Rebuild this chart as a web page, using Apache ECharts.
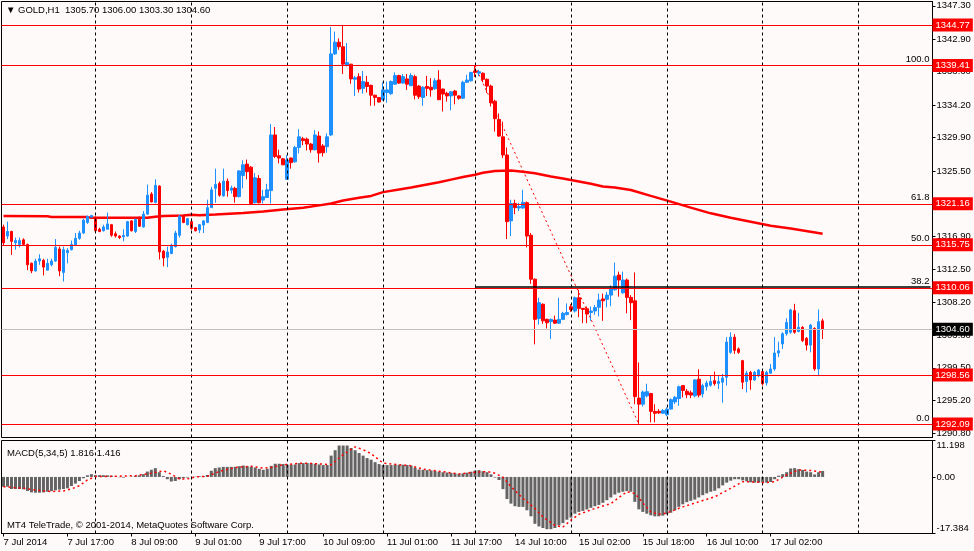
<!DOCTYPE html>
<html>
<head>
<meta charset="utf-8">
<script src="https://cdn.jsdelivr.net/npm/echarts@6.0.0/dist/echarts.min.js"></script>
<style>
  html, body { margin: 0; padding: 0; background: #FFFAFA; }
  #main { width: 974px; height: 551px; }
</style>
</head>
<body>
<div id="main"></div>
<script>
// trading days shown: [day, first hour, last hour]
var days = [['7 Jul', 1, 23], ['8 Jul', 0, 23], ['9 Jul', 0, 23], ['10 Jul', 0, 23], ['11 Jul', 0, 22],
            ['14 Jul', 0, 23], ['15 Jul', 0, 23], ['16 Jul', 0, 23], ['17 Jul', 0, 23], ['18 Jul', 0, 23]];
var slots = 233; // bars that fit in the window (data + empty space on the right)

// GOLD H1 candles: [open, close, low, high]
var candles = [
  [1318.1,1316.0,1315.6,1318.4],[1316.9,1317.5,1316.5,1318.8],[1317.5,1316.2,1314.4,1317.6],[1316.0,1316.3,1315.1,1316.7],
  [1315.8,1316.3,1315.4,1316.7],[1316.4,1315.8,1315.7,1316.6],[1315.8,1313.1,1312.4,1315.9],[1313.3,1312.3,1312.0,1313.4],
  [1312.3,1313.6,1312.2,1313.9],[1313.6,1313.9,1313.1,1314.5],[1313.7,1312.8,1311.7,1313.9],[1312.4,1313.3,1312.4,1313.9],
  [1313.1,1313.6,1312.9,1313.9],[1313.6,1315.4,1313.5,1316.5],[1315.2,1312.3,1311.6,1315.5],[1312.1,1315.1,1310.9,1315.5],
  [1314.7,1315.0,1313.3,1315.3],[1315.1,1315.8,1315.0,1316.3],[1315.7,1316.6,1315.6,1317.3],[1316.6,1317.3,1316.4,1317.6],
  [1317.3,1319.0,1317.2,1319.2],[1318.7,1319.5,1318.5,1319.6],[1319.4,1319.6,1319.3,1319.7],[1319.3,1317.6,1317.5,1319.5],
  [1317.8,1317.5,1317.4,1318.0],[1317.6,1318.1,1317.5,1318.4],[1317.8,1318.5,1317.8,1320.0],[1318.4,1317.0,1316.8,1318.5],
  [1317.2,1316.9,1316.7,1317.5],[1316.9,1316.7,1316.5,1317.0],[1316.8,1317.0,1316.2,1317.8],[1316.9,1318.8,1316.8,1318.9],
  [1318.9,1317.6,1317.5,1319.0],[1317.5,1319.1,1317.3,1319.2],[1319.2,1318.2,1318.1,1319.5],[1318.1,1319.8,1318.0,1320.2],
  [1319.8,1322.3,1319.7,1323.7],[1322.45,1321.4,1321.35,1322.7],[1321.35,1323.6,1321.2,1324.4],[1323.5,1314.8,1313.8,1323.6],
  [1314.9,1314.0,1312.9,1315.05],[1314.1,1314.8,1312.8,1315.5],[1314.6,1315.7,1314.5,1315.9],[1315.5,1317.3,1315.4,1317.6],
  [1317.0,1319.5,1316.7,1319.7],[1319.5,1318.7,1318.6,1319.7],[1318.4,1319.2,1318.3,1319.3],[1318.8,1317.9,1317.7,1319.2],
  [1318.0,1317.6,1317.5,1318.1],[1317.7,1318.4,1317.3,1318.5],[1318.35,1318.9,1317.3,1319.0],[1318.7,1320.65,1318.6,1321.7],
  [1320.65,1323.0,1320.6,1323.4],[1323.2,1323.7,1321.3,1325.8],[1323.85,1322.3,1322.1,1324.1],[1322.2,1324.15,1322.1,1325.8],
  [1324.15,1322.9,1322.1,1324.5],[1322.95,1323.25,1322.5,1323.55],[1323.2,1322.1,1321.3,1323.4],[1322.1,1325.5,1322.0,1325.6],
  [1324.9,1326.3,1323.2,1326.9],[1326.4,1325.4,1324.4,1327.0],[1326.0,1321.2,1321.2,1326.15],[1321.3,1324.6,1321.2,1325.2],
  [1324.5,1321.3,1321.2,1324.95],[1321.65,1322.1,1321.2,1323.0],[1322.0,1323.0,1321.9,1323.8],[1322.9,1330.25,1321.2,1331.7],
  [1330.25,1327.4,1327.2,1331.3],[1327.5,1327.2,1326.5,1328.3],[1327.1,1326.3,1326.3,1327.2],[1324.4,1326.95,1324.3,1327.6],
  [1327.2,1326.6,1325.8,1327.25],[1326.7,1328.6,1326.6,1328.8],[1328.6,1330.0,1327.8,1331.0],[1329.75,1329.5,1328.9,1330.0],
  [1329.7,1329.05,1328.2,1329.9],[1329.05,1328.3,1327.9,1329.2],[1328.3,1330.25,1328.2,1330.9],[1330.1,1327.85,1326.6,1330.7],
  [1328.8,1327.9,1327.4,1329.05],[1328.7,1330.0,1327.9,1330.45],[1330.25,1340.95,1330.1,1344.5],[1340.95,1342.5,1340.8,1343.9],
  [1342.5,1341.9,1341.5,1343.0],[1341.9,1339.6,1338.3,1344.77],[1339.5,1339.8,1339.3,1342.4],[1339.6,1337.65,1337.0,1339.6],
  [1337.6,1337.8,1335.4,1338.05],[1337.95,1336.3,1335.85,1338.4],[1336.4,1337.3,1335.7,1338.7],[1337.2,1336.65,1335.85,1338.05],
  [1336.8,1335.5,1334.1,1336.9],[1335.5,1335.2,1334.1,1335.55],[1335.2,1334.6,1334.5,1335.25],[1334.9,1336.2,1334.8,1337.2],
  [1335.85,1336.2,1334.5,1337.3],[1335.7,1337.3,1335.55,1337.45],[1336.95,1338.1,1336.9,1338.5],[1338.1,1337.1,1337.0,1338.2],
  [1337.1,1337.95,1337.0,1338.3],[1337.65,1336.95,1336.2,1338.3],[1336.75,1338.1,1336.7,1338.4],[1337.95,1335.5,1334.95,1338.2],
  [1336.7,1335.3,1335.0,1336.85],[1335.2,1336.55,1334.1,1336.7],[1336.65,1336.4,1335.4,1338.05],[1336.55,1336.2,1335.3,1337.75],
  [1336.35,1337.4,1336.2,1337.75],[1337.5,1334.9,1334.9,1338.8],[1336.3,1335.65,1333.35,1336.4],[1335.75,1335.4,1334.65,1335.95],
  [1335.4,1335.95,1333.5,1336.05],[1336.05,1335.5,1334.3,1336.2],[1335.4,1335.1,1334.9,1335.5],[1335.1,1337.2,1335.0,1337.4],
  [1337.2,1337.5,1337.1,1338.2],[1337.4,1338.5,1337.3,1338.6],[1338.7,1338.5,1337.9,1339.41],[1338.4,1338.6,1338.0,1338.85],
  [1338.4,1337.6,1337.2,1338.5],[1337.6,1336.7,1335.8,1337.7],[1336.7,1334.5,1334.0,1336.9],[1334.7,1332.4,1330.7,1334.9],
  [1332.3,1330.1,1330.0,1333.1],[1330.0,1327.6,1327.2,1332.0],[1327.6,1318.8,1316.5,1328.6],[1318.9,1321.2,1316.9,1321.7],
  [1321.2,1320.65,1319.8,1321.7],[1320.6,1320.8,1320.2,1321.3],[1320.6,1321.35,1320.5,1323.0],[1321.3,1316.9,1315.4,1321.45],
  [1317.0,1311.2,1310.6,1317.3],[1311.2,1305.9,1302.6,1311.3],[1306.0,1308.1,1305.2,1308.75],[1307.9,1305.7,1305.3,1308.0],
  [1305.9,1305.45,1304.7,1306.0],[1305.6,1305.9,1303.3,1306.0],[1305.8,1305.4,1305.3,1306.4],[1305.4,1305.9,1305.3,1308.75],
  [1305.9,1306.7,1305.8,1306.9],[1306.55,1306.8,1306.4,1308.0],[1307.55,1307.2,1306.9,1307.9],[1307.0,1308.75,1306.8,1308.9],
  [1308.75,1307.35,1306.2,1309.8],[1307.35,1307.2,1305.4,1307.4],[1307.3,1306.6,1305.4,1307.6],[1306.8,1307.0,1305.7,1307.6],
  [1307.0,1307.45,1306.5,1307.8],[1307.5,1308.45,1306.3,1309.3],[1308.6,1308.35,1305.7,1309.3],[1308.55,1309.1,1307.5,1309.5],
  [1309.1,1310.0,1307.65,1310.4],[1309.8,1311.6,1309.7,1313.4],[1311.75,1311.1,1308.9,1312.2],[1309.4,1311.1,1309.3,1312.2],
  [1311.1,1308.8,1306.7,1311.3],[1308.8,1308.1,1305.8,1309.1],[1308.35,1295.7,1294.7,1312.1],[1295.5,1294.7,1292.09,1300.2],
  [1294.7,1296.3,1294.4,1296.5],[1295.8,1296.35,1295.6,1297.4],[1296.1,1293.75,1292.3,1296.2],[1293.75,1293.5,1292.3,1294.7],
  [1293.75,1293.55,1293.4,1294.05],[1293.5,1293.85,1293.4,1294.05],[1293.3,1294.05,1293.1,1294.3],[1294.05,1295.3,1294.0,1295.45],
  [1295.0,1295.6,1294.7,1295.8],[1295.45,1297.0,1294.5,1297.15],[1297.15,1296.5,1295.6,1297.2],[1296.4,1295.95,1295.5,1296.7],
  [1296.2,1295.9,1295.5,1296.5],[1295.8,1297.9,1295.6,1298.0],[1298.0,1295.9,1295.6,1299.3],[1296.05,1297.15,1295.6,1297.4],
  [1297.0,1297.5,1296.5,1297.8],[1297.2,1297.7,1297.0,1298.5],[1297.8,1297.4,1297.15,1299.0],[1297.45,1297.7,1296.7,1298.5],
  [1297.6,1298.15,1294.9,1298.7],[1298.25,1302.9,1297.15,1303.55],[1301.55,1303.55,1301.35,1304.2],[1303.55,1301.8,1301.35,1303.95],
  [1302.0,1301.55,1301.35,1302.2],[1300.45,1297.6,1296.7,1300.55],[1297.7,1298.8,1296.25,1299.1],[1298.9,1297.9,1296.6,1299.1],
  [1297.9,1298.9,1297.8,1299.1],[1298.45,1299.2,1298.25,1299.35],[1299.0,1297.4,1297.15,1299.1],[1297.5,1298.9,1297.15,1299.1],
  [1298.8,1299.35,1298.7,1300.0],[1299.35,1301.45,1299.1,1303.55],[1301.45,1301.75,1300.9,1302.95],[1302.65,1304.0,1302.0,1304.2],
  [1304.0,1305.5,1303.75,1306.05],[1304.2,1307.15,1304.0,1307.3],[1307.05,1304.2,1304.0,1307.95],[1304.3,1304.85,1304.2,1306.75],
  [1304.85,1303.1,1302.9,1305.0],[1303.4,1302.5,1301.8,1303.55],[1302.5,1305.15,1301.55,1305.3],[1304.7,1299.35,1299.1,1304.85],
  [1299.35,1305.6,1298.4,1307.2],[1305.70,1304.60,1303.30,1306.00]
];

// moving average: [bar index, value]
var maPoints = [
  [0,1319.55],[11,1319.5],[12,1319.42],[21,1319.4],[22,1319.33],[36,1319.33],[38,1319.45],[40,1319.55],
  [45,1319.6],[47,1319.72],[49,1319.65],[53,1319.75],[60,1319.95],[65,1320.15],[70,1320.4],[75,1320.65],
  [79,1320.95],[82,1321.2],[85,1321.6],[89,1321.95],[92,1322.2],[95,1322.7],[99,1323.05],[102,1323.3],
  [105,1323.6],[109,1324.0],[112,1324.35],[115,1324.7],[118,1325.0],[120,1325.25],[123,1325.5],[127,1325.55],
  [130,1325.4],[133,1325.2],[137,1324.75],[140,1324.5],[143,1324.2],[147,1323.8],[150,1323.45],[153,1323.3],
  [157,1322.98],[162,1322.2],[167,1321.44],[172,1320.65],[177,1319.9],[182,1319.32],[187,1318.8],[192,1318.27],
  [197,1317.91],[202,1317.47],[205,1317.2]
];

// MACD(5,34,5) main values (histogram)
var macdHist = [
  -3.0,-3.0,-3.7,-3.7,-3.7,-3.8,-4.3,-4.75,-4.85,-4.85,
  -4.75,-4.55,-4.35,-4.1,-3.9,-3.7,-3.5,-2.8,-2.05,-1.25,
  -0.4,0.5,0.85,0.55,0.55,0.55,0.5,0.4,0.1,-0.1,
  -0.2,0.05,0.1,0.3,0.5,0.85,1.65,2.2,2.7,1.45,
  0.3,-0.7,-1.4,-1.25,-0.7,-0.4,-0.2,0.05,0.1,0.2,
  0.3,0.6,1.9,2.7,2.9,3.1,3.1,3.1,3.1,3.3,
  3.5,3.3,3.1,2.9,2.5,2.2,2.5,3.4,4.05,4.05,
  3.95,3.75,3.75,3.85,4.25,4.25,4.25,4.25,4.05,3.85,
  3.65,3.65,6.55,8.2,9.65,9.65,9.65,8.9,8.2,7.35,
  6.55,5.8,5.3,4.55,3.95,3.65,3.65,3.65,3.75,3.75,
  3.75,3.65,3.45,2.9,2.3,2.2,2.1,2.0,1.8,1.6,
  1.45,1.35,1.25,1.1,0.95,1.1,1.3,1.6,1.95,2.1,
  1.75,1.45,0.8,-0.2,-0.95,-3.75,-6.8,-8.2,-9.0,-9.2,
  -9.2,-10.25,-12.1,-14.4,-15.2,-15.7,-16.05,-16.05,-15.7,-14.9,
  -14.2,-13.15,-12.5,-11.3,-10.75,-10.45,-10.0,-9.5,-9.0,-8.6,
  -7.95,-7.15,-6.3,-5.4,-4.85,-4.55,-4.35,-4.55,-7.65,-9.95,
  -10.75,-11.3,-11.8,-12.1,-12.1,-11.9,-11.5,-11.0,-10.25,-9.2,
  -8.4,-7.75,-7.35,-6.95,-6.3,-5.6,-5.05,-4.55,-4.25,-3.5,
  -2.6,-1.75,-1.15,-0.7,-0.7,-1.05,-1.35,-1.65,-1.75,-1.75,
  -1.75,-1.75,-1.55,-0.7,0.4,0.85,1.45,2.6,2.7,2.4,
  2.15,1.65,1.45,0.75,1.45,1.816
];

// MACD signal line: [bar index, value]
var signalPoints = [
  [0,-3.0],[5,-3.5],[8,-4.0],[12,-4.5],[15,-4.3],[17,-3.7],[19,-2.7],[21,-0.9],[23,0.1],[28,0.2],
  [33,0.4],[37,1.15],[40,1.9],[42,0.85],[44,-0.6],[46,-0.6],[48,0.0],[51,0.2],[54,1.67],[58,2.9],
  [62,3.3],[65,2.7],[67,2.9],[70,3.74],[75,4.26],[80,3.95],[82,3.74],[85,6.85],[88,9.23],[90,8.4],
  [92,7.16],[95,4.26],[100,3.64],[102,3.43],[105,2.4],[110,1.6],[114,0.9],[118,1.45],[121,1.66],[123,1.15],
  [125,-0.1],[127,-2.99],[130,-6.6],[133,-9.7],[135,-12.3],[138,-14.9],[140,-15.4],[142,-13.3],[144,-11.5],[148,-9.7],
  [152,-8.2],[156,-4.55],[158,-5.07],[160,-7.96],[162,-10.75],[164,-11.5],[166,-11.1],[170,-9.2],[174,-7.65],[178,-6.1],
  [182,-3.5],[185,-1.45],[188,-1.55],[191,-1.76],[193,-1.45],[196,0.62],[199,2.17],[202,1.97],[205,1.416]
];

// price scale tick labels
var priceTicks = [1290.80, 1295.20, 1299.50, 1303.80, 1308.20, 1312.50, 1316.90, 1321.20,
                  1325.50, 1329.90, 1334.20, 1338.60, 1342.90, 1347.30];
var macdTicks = [-17.384, 0, 11.198];

// horizontal lines with price tags, and the current bid
var levels = [1344.77, 1339.41, 1321.16, 1315.75, 1310.06, 1298.56, 1292.09];
var bid = 1304.60;

// fibonacci retracement from the high to the low
var fibFrom = [118, 1339.41];
var fibTo = [159, 1292.09];
var fibLevels = [['100.0', 1339.41], ['61.8', 1321.16], ['50.0', 1315.75], ['38.2', 1310.17], ['0.0', 1292.09]];

// period separators (bar indexes at the start of each day)
var separators = [23, 47, 71, 95, 118, 142, 166, 190, 214];

var FONT = 'Liberation Sans';
var FS = 9.5;

// build category labels
var cats = [];
days.forEach(function (d) {
  for (var h = d[1]; h <= d[2]; h++) cats.push(d[0] + ' ' + (h < 10 ? '0' + h : h) + ':00');
});
cats = cats.slice(0, slots);
cats[0] = '7 Jul 2014';

var showTime = function (i) { return i % 16 === 0 && i < candles.length; };

var sepLines = separators.map(function (i) {
  return { xAxis: i, label: { show: false }, lineStyle: { color: '#000', type: [3, 3], width: 1 } };
});

var priceLines = levels.map(function (v) {
  return {
    yAxis: v,
    lineStyle: { color: '#FF0000', type: 'solid', width: 1 },
    label: {
      show: true, position: 'end', distance: 0, formatter: v.toFixed(2),
      backgroundColor: '#FF0000', color: '#fff', padding: [2, 3, 1, 3],
      fontFamily: FONT, fontSize: FS
    }
  };
});
priceLines.push({
  yAxis: bid,
  lineStyle: { color: '#C0C0C0', type: 'solid', width: 1 },
  label: {
    show: true, position: 'end', distance: 0, formatter: bid.toFixed(2),
    backgroundColor: '#000', color: '#fff', padding: [2, 3, 1, 3],
    fontFamily: FONT, fontSize: FS
  }
});

var fibLines = fibLevels.map(function (f) {
  var black = f[0] === '38.2';
  return [
    {
      coord: [fibFrom[0], f[1]],
      lineStyle: { color: black ? '#000' : '#FF0000', type: 'solid', width: black ? 1.5 : 1 },
      label: {
        show: true, position: 'insideEndTop', distance: 1, formatter: f[0],
        color: '#000', fontFamily: FONT, fontSize: FS
      }
    },
    { coord: [slots - 1, f[1]] }
  ];
});
fibLines.push([
  { coord: fibFrom, lineStyle: { color: '#FF0000', type: [2, 3], width: 1 }, label: { show: false } },
  { coord: fibTo }
]);

var myChart = echarts.init(document.getElementById('main'));

var option = {
  animation: false,
  backgroundColor: '#FFFAFA',
  textStyle: { fontFamily: FONT, fontSize: FS, color: '#000' },
  title: [
    { text: '▼ GOLD,H1  1305.70 1306.00 1303.30 1304.60', left: 6, top: 5, padding: 0,
      textStyle: { fontFamily: FONT, fontSize: FS, fontWeight: 'normal', color: '#000' } },
    { text: 'MACD(5,34,5) 1.816 1.416', left: 7, top: 448, padding: 0,
      textStyle: { fontFamily: FONT, fontSize: FS, fontWeight: 'normal', color: '#000' } },
    { text: 'MT4 TeleTrade, © 2001-2014, MetaQuotes Software Corp.', left: 7, top: 520, padding: 0,
      textStyle: { fontFamily: FONT, fontSize: FS, fontWeight: 'normal', color: '#000' } }
  ],
  grid: [
    { left: 1.5, right: 41.5, top: 1.5, height: 436, show: true, borderColor: '#000', borderWidth: 1,
      backgroundColor: '#FFFAFA', outerBoundsMode: 'none' },
    { left: 1.5, right: 41.5, top: 440.5, height: 93, show: true, borderColor: '#000', borderWidth: 1,
      backgroundColor: '#FFFAFA', outerBoundsMode: 'none' }
  ],
  xAxis: [
    { type: 'category', gridIndex: 0, data: cats, boundaryGap: true,
      axisLine: { show: false }, axisTick: { show: false }, axisLabel: { show: false }, splitLine: { show: false } },
    { type: 'category', gridIndex: 1, data: cats, boundaryGap: true,
      axisLine: { show: true, onZero: false, lineStyle: { color: '#000', width: 1 } },
      axisTick: { show: true, interval: showTime, alignWithLabel: true, length: 3, lineStyle: { color: '#000' } },
      axisLabel: { interval: showTime, align: 'left', margin: 4, color: '#000', fontFamily: FONT, fontSize: FS },
      splitLine: { show: false } }
  ],
  yAxis: [
    { type: 'value', gridIndex: 0, position: 'right', min: 1290.30, max: 1347.87, scale: true,
      axisLine: { show: true, lineStyle: { color: '#000' } },
      axisTick: { show: true, customValues: priceTicks, length: 3, lineStyle: { color: '#000' } },
      axisLabel: { customValues: priceTicks, margin: 4, color: '#000', fontFamily: FONT, fontSize: FS,
        formatter: function (v) { return v.toFixed(2); } },
      splitLine: { show: false } },
    { type: 'value', gridIndex: 1, position: 'right', min: -17.384, max: 11.198,
      axisLine: { show: true, lineStyle: { color: '#000' } },
      axisTick: { show: true, customValues: macdTicks, length: 3, lineStyle: { color: '#000' } },
      axisLabel: { customValues: macdTicks, margin: 4, color: '#000', fontFamily: FONT, fontSize: FS,
        verticalAlignMinLabel: 'bottom', verticalAlignMaxLabel: 'top',
        formatter: function (v) { return v === 0 ? '0.00' : v.toFixed(3); } },
      splitLine: { show: false } }
  ],
  series: [
    {
      name: 'MA', type: 'line', xAxisIndex: 0, yAxisIndex: 0, data: maPoints,
      symbol: 'none', silent: true, z: 3,
      lineStyle: { color: '#FF0000', width: 2.5 },
      markLine: { symbol: 'none', silent: true, data: fibLines }
    },
    {
      name: 'GOLD,H1', type: 'candlestick', xAxisIndex: 0, yAxisIndex: 0, data: candles,
      barWidth: 3, z: 4,
      itemStyle: { color: '#1E90FF', color0: '#FF0000', borderColor: '#1E90FF', borderColor0: '#FF0000', borderWidth: 1 },
      markLine: { symbol: 'none', silent: true, data: sepLines.concat(priceLines) }
    },
    {
      name: 'MACD', type: 'bar', xAxisIndex: 1, yAxisIndex: 1, data: macdHist,
      barWidth: 3, silent: true, itemStyle: { color: '#646464' },
      markLine: { symbol: 'none', silent: true, data: sepLines }
    },
    {
      name: 'Signal', type: 'line', xAxisIndex: 1, yAxisIndex: 1, data: signalPoints,
      symbol: 'none', silent: true, z: 5,
      lineStyle: { color: '#FF0000', width: 1.5, type: [2, 3] }
    }
  ]
};

myChart.setOption(option);
</script>
</body>
</html>
